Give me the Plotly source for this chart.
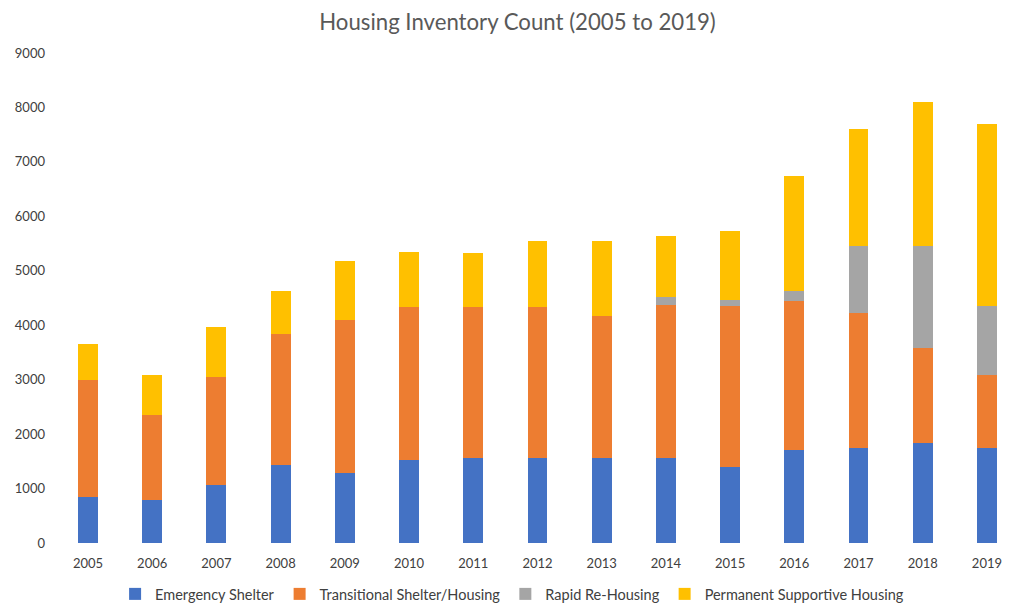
import plotly.graph_objects as go

years = [str(y) for y in range(2005, 2020)]
emergency_shelter = [850, 790, 1070, 1440, 1290, 1530, 1560, 1560, 1560, 1560, 1400, 1710, 1750, 1840, 1750]
transitional_housing = [2150, 1570, 1980, 2400, 2810, 2800, 2770, 2770, 2610, 2820, 2950, 2730, 2480, 1750, 1340]
rapid_rehousing = [0, 0, 0, 0, 0, 0, 0, 0, 0, 130, 120, 190, 1220, 1860, 1260]
permanent_supportive = [650, 730, 910, 790, 1080, 1010, 1000, 1220, 1380, 1130, 1260, 2120, 2150, 2650, 3350]

series = [
    ("Emergency Shelter", emergency_shelter, "#4472C4"),
    ("Transitional Shelter/Housing", transitional_housing, "#ED7D31"),
    ("Rapid Re-Housing", rapid_rehousing, "#A5A5A5"),
    ("Permanent Supportive Housing", permanent_supportive, "#FFC000"),
]

fig = go.Figure()
for name, vals, color in series:
    fig.add_trace(go.Bar(x=years, y=vals, name=name, marker=dict(color=color, line=dict(width=0))))

font_family = "Lato, 'Open Sans', sans-serif"
fig.update_layout(
    barmode="stack",
    bargap=0.69,
    width=1005,
    height=596,
    paper_bgcolor="white",
    plot_bgcolor="white",
    margin=dict(l=38, r=0, t=45, b=61, autoexpand=False),
    title=dict(text="Housing Inventory Count (2005 to 2019)", x=0.507, xanchor="center",
               y=0.9765, yanchor="middle",
               font=dict(family=font_family, size=22.2, color="#595959")),
    font=dict(family=font_family, size=13, color="#404040"),
    xaxis=dict(type="category", range=[-0.654, 14.406], showgrid=False, showline=False,
               ticks="", automargin=False, ticklabelstandoff=11,
               tickfont=dict(size=13, color="#404040")),
    yaxis=dict(range=[0, 9000], dtick=1000, showgrid=False, showline=False, zeroline=False,
               ticks="", automargin=False, tickformat="d", tickfont=dict(size=13, color="#404040")),
    legend=dict(orientation="h", x=0.482, xanchor="center", y=-0.104, yanchor="middle",
                font=dict(size=14.5, color="#404040"), itemwidth=30, traceorder="normal"),
    showlegend=True,
)

fig.write_html("out.html")
